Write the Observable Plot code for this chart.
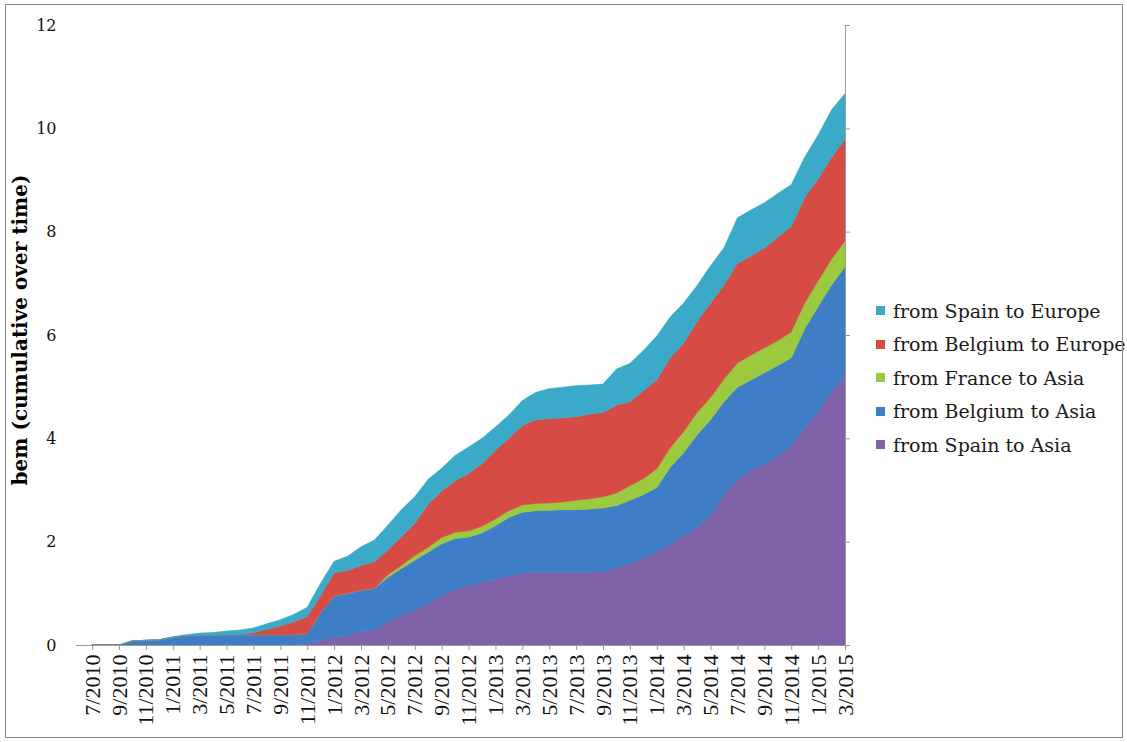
<!DOCTYPE html>
<html>
<head>
<meta charset="utf-8">
<script src="https://cdn.jsdelivr.net/npm/d3@7"></script>
<script src="https://cdn.jsdelivr.net/npm/@observablehq/plot@0.6"></script>
<style>
  html, body { margin: 0; padding: 0; background: #fff; }
  #wrap { position: relative; width: 1127px; height: 742px; overflow: hidden; }
  #frame { position: absolute; left: 5px; top: 4px; width: 1118px; height: 734px; border: 1.5px solid #8a8a8a; box-sizing: border-box; pointer-events: none; }
  #chart { position: absolute; left: 0; top: 0; }
  #ytitle { position: absolute; left: 20px; top: 330px; transform: translate(-50%, -50%) rotate(-90deg); white-space: nowrap;
            font-family: "DejaVu Serif", serif; font-weight: bold; font-size: 20px; color: #000; }
  #legend { position: absolute; left: 876px; top: 294px; font-family: "DejaVu Serif", serif; font-size: 19px; color: #1a1a1a; }
  .row { height: 33.5px; display: flex; align-items: center; }
  .sw { width: 9px; height: 9px; margin-right: 8px; flex: none; }
</style>
</head>
<body>
<div id="wrap">
  <div id="chart"></div>
  <div id="ytitle">bem (cumulative over time)</div>
  <div id="legend"></div>
  <div id="frame"></div>
</div>
<script>
const months = [
  "7/2010","8/2010","9/2010","10/2010","11/2010","12/2010",
  "1/2011","2/2011","3/2011","4/2011","5/2011","6/2011","7/2011","8/2011","9/2011","10/2011","11/2011","12/2011",
  "1/2012","2/2012","3/2012","4/2012","5/2012","6/2012","7/2012","8/2012","9/2012","10/2012","11/2012","12/2012",
  "1/2013","2/2013","3/2013","4/2013","5/2013","6/2013","7/2013","8/2013","9/2013","10/2013","11/2013","12/2013",
  "1/2014","2/2014","3/2014","4/2014","5/2014","6/2014","7/2014","8/2014","9/2014","10/2014","11/2014","12/2014",
  "1/2015","2/2015","3/2015"
];

const spainAsia = [
  0,0,0,0,0,0,0,0,0,0,0,0,0,0,0,0,
  0.02,0.08,0.15,0.18,0.26,0.30,0.44,0.58,0.67,0.80,0.96,1.08,1.15,1.22,1.27,1.34,1.39,
  1.41,1.41,1.41,1.41,1.41,1.42,1.50,1.58,1.68,1.80,1.95,2.12,2.28,2.50,2.90,3.20,3.38,
  3.50,3.65,3.85,4.20,4.50,4.90,5.20
];
const belgiumAsia = [
  0,0,0,0.08,0.09,0.10,0.15,0.18,0.19,0.19,0.20,0.20,0.20,0.20,0.20,0.20,
  0.20,0.55,0.80,0.82,0.80,0.80,0.87,0.90,0.97,1.00,1.00,0.98,0.94,0.95,1.04,1.13,1.18,
  1.19,1.20,1.21,1.21,1.22,1.23,1.20,1.22,1.23,1.25,1.49,1.60,1.79,1.86,1.81,1.79,1.75,
  1.77,1.76,1.71,1.92,2.05,2.07,2.12
];
const franceAsia = [
  0,0,0,0,0,0,0,0,0,0,0,0,0,0,0,0,
  0,0,0,0,0,0,0.05,0.06,0.09,0.09,0.12,0.12,0.12,0.13,0.13,0.13,0.14,
  0.14,0.14,0.15,0.18,0.20,0.22,0.24,0.28,0.31,0.36,0.38,0.41,0.43,0.43,0.44,0.47,0.48,
  0.48,0.48,0.50,0.50,0.50,0.50,0.50
];
const belgiumEurope = [
  0,0,0,0,0,0,0,0,0,0,0,0,0.04,0.10,0.17,0.25,
  0.33,0.33,0.45,0.44,0.48,0.51,0.48,0.55,0.62,0.84,0.90,1.00,1.11,1.21,1.33,1.40,1.54,
  1.62,1.63,1.63,1.62,1.64,1.63,1.70,1.63,1.70,1.72,1.74,1.71,1.76,1.83,1.82,1.93,1.92,
  1.93,2.00,2.04,2.04,1.97,1.97,1.97
];
const spainEurope = [
  0,0,0,0,0,0,0.01,0.02,0.04,0.05,0.07,0.09,0.09,0.11,0.12,0.14,
  0.18,0.24,0.22,0.28,0.36,0.42,0.48,0.53,0.52,0.48,0.44,0.49,0.51,0.49,0.45,0.45,0.48,
  0.53,0.58,0.59,0.60,0.56,0.55,0.70,0.74,0.78,0.85,0.79,0.78,0.70,0.72,0.72,0.88,0.89,
  0.88,0.85,0.81,0.78,0.85,0.92,0.88
];

const seriesNames = ["from Spain to Asia","from Belgium to Asia","from France to Asia","from Belgium to Europe","from Spain to Europe"];
const seriesColors = ["#8062a8","#3f7ec6","#9bca3e","#d64b44","#3aaac8"];
const yTicks = [0,2,4,6,8,10,12];

const seriesValues = [spainAsia, belgiumAsia, franceAsia, belgiumEurope, spainEurope];
const data = seriesNames.flatMap((name, s) => seriesValues[s].map((v, i) => ({i, v, series: name})));
const xTicks = months.map((m, i) => i).filter(i => i % 2 === 0);

const chart = Plot.plot({
  width: 1127,
  height: 742,
  marginLeft: 76,
  marginRight: 282,
  marginTop: 25,
  marginBottom: 97,
  style: {background: "transparent", overflow: "visible"},
  x: {type: "linear", domain: [-1.2, 56], label: null},
  y: {domain: [0, 12], label: null},
  color: {domain: seriesNames, range: seriesColors},
  marks: [
    Plot.areaY(data, {x: "i", y: "v", z: "series", fill: "series", stroke: "series", strokeWidth: 0.6, order: seriesNames}),
    Plot.ruleY([0], {stroke: "#9a9a9a", strokeWidth: 1}),
    Plot.ruleX([56], {y1: 0, y2: 12, stroke: "#9a9a9a", strokeWidth: 1}),
    Plot.axisX({ticks: xTicks, tickFormat: i => months[i], tickRotate: -90, tickSize: 5, tickPadding: 4,
                stroke: "#9a9a9a", fill: "#111", fontSize: 22, fontFamily: "Liberation Serif", label: null}),
    Plot.axisY({ticks: yTicks, tickSize: 0, tickPadding: 20, fill: "#111", fontSize: 16, fontFamily: "DejaVu Serif", label: null}),
    Plot.axisY({anchor: "right", ticks: yTicks, tickSize: 4, tickFormat: () => "", stroke: "#9a9a9a", label: null})
  ]
});
document.getElementById("chart").appendChild(chart);

const legend = document.getElementById("legend");
for (let s = seriesNames.length - 1; s >= 0; s--) {
  const row = document.createElement("div");
  row.className = "row";
  const sw = document.createElement("span");
  sw.className = "sw";
  sw.style.background = seriesColors[s];
  const t = document.createElement("span");
  t.textContent = seriesNames[s];
  row.appendChild(sw);
  row.appendChild(t);
  legend.appendChild(row);
}
</script>
</body>
</html>
